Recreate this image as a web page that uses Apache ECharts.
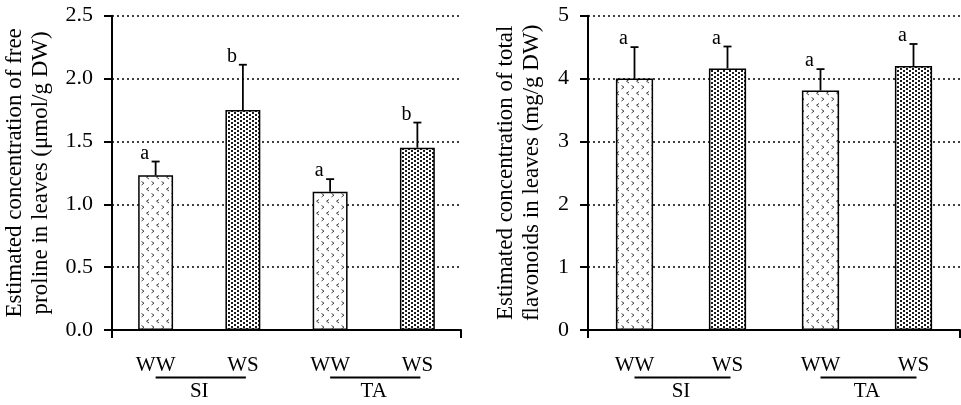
<!DOCTYPE html>
<html>
<head>
<meta charset="utf-8">
<script src="https://cdn.jsdelivr.net/npm/echarts@6/dist/echarts.min.js"></script>
<style>html,body{margin:0;padding:0;background:#fff}#c{width:961px;height:405px}</style>
</head>
<body>
<div id="c"></div>
<script>
// ---- data ----
const categories = ['WW', 'WS', 'WW', 'WS'];
const groups = ['SI', 'TA'];
const groupSpans = [[0, 1], [2, 3]];
const prolineValues = [1.23, 1.75, 1.10, 1.45];
const prolineErrors = [0.11, 0.36, 0.10, 0.20];
const prolineLetters = ['a', 'b', 'a', 'b'];
const flavValues = [4.00, 4.16, 3.81, 4.20];
const flavErrors = [0.50, 0.35, 0.34, 0.35];
const flavLetters = ['a', 'a', 'a', 'a'];
const prolineTicks = [0, 2.5, 0.5];
const flavTicks = [0, 5, 1];
const prolineTitle = 'Estimated concentration of free\nproline in leaves (μmol/g DW)';
const flavTitle = 'Estimated concentration of total\nflavonoids in leaves (mg/g DW)';

// ---- patterns ----
function dotPattern() {
  const c = document.createElement('canvas'); c.width = 6; c.height = 4;
  const g = c.getContext('2d');
  g.fillStyle = '#fff'; g.fillRect(0, 0, 6, 4);
  g.fillStyle = '#1a1a1a';
  g.fillRect(0, 0, 2, 2); g.fillRect(3, 2, 2, 2);
  return c;
}
function chevronPattern() {
  const c = document.createElement('canvas'); c.width = 10; c.height = 12;
  const g = c.getContext('2d');
  g.fillStyle = '#fff'; g.fillRect(0, 0, 10, 12);
  g.strokeStyle = '#444'; g.lineWidth = 1;
  g.beginPath(); g.moveTo(1.5, 1.5); g.lineTo(4, 3.2); g.lineTo(1.5, 5); g.stroke();
  g.beginPath(); g.moveTo(9, 7.5); g.lineTo(6.5, 9.2); g.lineTo(9, 11); g.stroke();
  return c;
}
const wsFill = { image: dotPattern(), repeat: 'repeat' };
const wwFill = { image: chevronPattern(), repeat: 'repeat' };

const FONT = 'Liberation Serif';
const black = '#000';

function xCat(gridIndex) {
  return {
    type: 'category', gridIndex, data: categories, boundaryGap: true,
    axisLine: { lineStyle: { color: black, width: 2 } },
    axisTick: { alignWithLabel: true, length: 8, lineStyle: { color: black, width: 2 } },
    axisLabel: { color: black, fontFamily: FONT, fontSize: 21, margin: 25 },
    splitLine: { show: false }
  };
}
function xEnds(gridIndex) {
  return {
    type: 'value', gridIndex, min: 0, max: 1, interval: 1, position: 'bottom',
    axisLine: { show: false },
    axisTick: { show: true, length: 8, lineStyle: { color: black, width: 2 } },
    axisLabel: { show: false }, splitLine: { show: false }
  };
}
function yVal(gridIndex, ticks, title, gap, digits) {
  return {
    type: 'value', gridIndex, min: ticks[0], max: ticks[1], interval: ticks[2],
    name: title, nameLocation: 'middle', nameRotate: 90, nameGap: gap,
    nameTextStyle: { color: black, fontFamily: FONT, fontSize: 23, lineHeight: 26 },
    axisLine: { show: true, lineStyle: { color: black, width: 2 } },
    axisTick: { show: true, length: 8, lineStyle: { color: black, width: 2 } },
    axisLabel: { color: black, fontFamily: FONT, fontSize: 22, margin: 19,
      formatter: v => v.toFixed(digits) },
    splitLine: { show: true, lineStyle: { color: black, width: 1.5, type: [2, 3] } }
  };
}
function barSeries(xi, yi, values) {
  return {
    type: 'bar', xAxisIndex: xi, yAxisIndex: yi, barWidth: '40%', z: 3,
    data: values.map((v, i) => ({ value: v, itemStyle: { color: i % 2 ? wsFill : wwFill } })),
    itemStyle: { borderColor: black, borderWidth: 1.5 },
    emphasis: { disabled: true }, animation: false
  };
}
function errSeries(xi, yi, values, errs, letters) {
  return {
    type: 'custom', xAxisIndex: xi, yAxisIndex: yi, z: 4, animation: false, clip: false,
    data: values.map((v, i) => [i, v, errs[i]]),
    encode: { x: 0, y: 1 },
    renderItem: (params, api) => {
      const i = api.value(0), v = api.value(1), e = api.value(2);
      const p0 = api.coord([i, v]);
      const p1 = api.coord([i, v + e]);
      const st = { stroke: black, lineWidth: 1.8 };
      return {
        type: 'group', children: [
          { type: 'line', shape: { x1: p0[0], y1: p0[1], x2: p1[0], y2: p1[1] }, style: st },
          { type: 'line', shape: { x1: p1[0] - 4, y1: p1[1], x2: p1[0] + 4, y2: p1[1] }, style: st },
          { type: 'text', x: p1[0] - 11, y: p1[1] + 2,
            style: { text: letters[params.dataIndex], fill: black, font: '20px "' + FONT + '"',
              align: 'center', verticalAlign: 'bottom' } }
        ]
      };
    }
  };
}
function groupSeries(xi, yi) {
  return {
    type: 'custom', xAxisIndex: xi, yAxisIndex: yi, z: 4, animation: false, clip: false,
    data: groupSpans.map(s => [s[0], s[1]]),
    encode: { x: [0, 1] },
    renderItem: (params, api) => {
      const s = api.coord([api.value(0), 0]);
      const e = api.coord([api.value(1), 0]);
      const ly = s[1] + 47.5;
      return {
        type: 'group', children: [
          { type: 'line', shape: { x1: s[0], y1: ly, x2: e[0] + 3, y2: ly },
            style: { stroke: black, lineWidth: 1.8 } },
          { type: 'text', x: (s[0] + e[0]) / 2, y: ly + 14,
            style: { text: groups[params.dataIndex], fill: black, font: '21px "' + FONT + '"',
              align: 'center', verticalAlign: 'middle' } }
        ]
      };
    }
  };
}

const chart = echarts.init(document.getElementById('c'), null, { renderer: 'canvas' });
chart.setOption({
  animation: false,
  backgroundColor: '#fff',
  grid: [
    { left: 112, right: 500, top: 15.7, bottom: 75 },
    { left: 588, right: 1, top: 15.7, bottom: 75 }
  ],
  xAxis: [xCat(0), xEnds(0), xCat(1), xEnds(1)],
  yAxis: [
    yVal(0, prolineTicks, prolineTitle, 58, 1),
    yVal(1, flavTicks, flavTitle, 43, 0)
  ],
  series: [
    barSeries(0, 0, prolineValues),
    errSeries(0, 0, prolineValues, prolineErrors, prolineLetters),
    groupSeries(0, 0),
    barSeries(2, 1, flavValues),
    errSeries(2, 1, flavValues, flavErrors, flavLetters),
    groupSeries(2, 1)
  ]
});
</script>
</body>
</html>
